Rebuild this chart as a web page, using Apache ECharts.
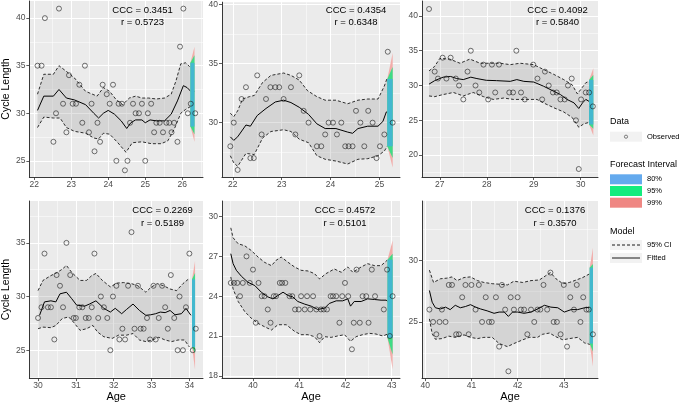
<!DOCTYPE html>
<html><head><meta charset="utf-8">
<script src="https://cdn.jsdelivr.net/npm/echarts@6/dist/echarts.min.js"></script>
<style>html,body{margin:0;padding:0;background:#fff}#c{width:685px;height:403px}</style>
</head><body><div id="c"></div><script>
// ---------------- DATA ----------------
// Panel 1
const p1Obs = [[22.09,35],[22.2,35],[22.29,40],[22.67,41],[22.52,27],[22.59,30],[22.78,31],[22.87,28],[22.94,34],[23.04,31],[23.13,31],[23.22,33],[23.3,29],[23.37,35],[23.48,28],[23.55,31],[23.63,26],[23.71,29],[23.78,27],[23.85,33],[23.96,32],[24.04,31],[24.13,33],[24.22,25],[24.28,31],[24.37,31],[24.45,24],[24.52,25],[24.59,29],[24.67,31],[24.74,30],[24.83,30],[24.91,31],[25.0,25],[25.07,30],[25.16,31],[25.24,28],[25.3,29],[25.39,29],[25.48,28],[25.57,29],[25.65,29],[25.71,28],[25.78,29],[25.87,27],[25.94,37],[26.03,41],[26.15,30],[26.23,31],[26.35,30]];
const p1Fit = [[22.09,30.3],[22.26,31.8],[22.52,31.8],[22.67,32.5],[22.87,31.6],[23.09,31.4],[23.39,30.9],[23.61,30.0],[23.74,29.5],[23.87,30.0],[24.0,30.3],[24.17,29.9],[24.35,29.2],[24.5,28.4],[24.61,29.0],[24.74,29.3],[24.91,29.3],[25.0,29.0],[25.13,29.3],[25.3,29.2],[25.52,29.2],[25.7,29.9],[25.87,31.3],[26.03,32.9],[26.13,32.7],[26.23,32.3],[26.33,32.3]];
const p1Up = [[22.09,32],[22.26,34.1],[22.52,34.1],[22.67,35],[22.87,34.4],[23.09,33.7],[23.39,32.3],[23.7,31.8],[23.87,32.7],[24.04,32.3],[24.22,31.4],[24.39,30.9],[24.57,31.6],[24.74,31.8],[24.91,31.6],[25.09,31.6],[25.3,31.5],[25.52,31.6],[25.7,32],[25.83,33.4],[25.96,35.2],[26.09,35.3],[26.2,34.9]];
const p1Lo = [[22.09,28.5],[22.26,29.6],[22.52,29.5],[22.7,29.5],[22.87,28.5],[23.09,28.1],[23.39,27.9],[23.61,27.4],[23.74,27.3],[23.87,27.9],[24.04,27.8],[24.26,26.9],[24.48,25.9],[24.65,26.9],[24.91,27],[25.17,26.8],[25.43,26.8],[25.61,27.1],[25.78,28.3],[25.96,30],[26.09,30.4],[26.22,30.7]];
const p1FcAge = [26.22, 26.33];
const p1Fc80 = [[28.6,35.3],[28.6,35.3]];
const p1Fc95 = [[28.6,35.3],[27.8,36.1]];
const p1Fc99 = [[28.6,35.3],[27.0,37.0]];
const p1Stats = ['CCC = 0.3451', 'r = 0.5723'];
const p1XTicks = [22,23,24,25,26], p1XMinor = [22.5,23.5,24.5,25.5,26.5];
const p1YTicks = [25,30,35,40], p1YMinor = [27.5,32.5,37.5];
const p1XLim = [21.87, 26.56], p1YLim = [23.3, 41.8];

// Panel 2
const p2Obs = [[21.95,28],[22.02,30],[22.1,26],[22.18,32],[22.27,33],[22.36,27],[22.43,27],[22.5,34],[22.59,29],[22.68,32],[22.77,33],[22.87,33],[22.95,33],[23.04,32],[23.19,33],[23.28,29],[23.36,34],[23.45,31],[23.55,30],[23.72,28],[23.81,28],[23.89,29],[23.96,30],[24.05,30],[24.13,29],[24.22,30],[24.3,28],[24.37,28],[24.45,28],[24.52,31],[24.61,30],[24.69,28],[24.77,31],[24.86,30],[24.94,27],[25.01,28],[25.1,29],[25.17,36],[25.27,30]];
const p2Fit = [[21.95,28.8],[22.02,28.5],[22.1,28.8],[22.27,29.8],[22.36,29.7],[22.5,30.6],[22.68,31.2],[22.87,31.75],[23.04,31.9],[23.19,31.7],[23.36,31.3],[23.55,30.7],[23.72,29.9],[23.89,29.5],[24.11,29.5],[24.35,29.2],[24.45,29.1],[24.56,29.5],[24.76,29.7],[24.97,29.7],[25.07,30.1],[25.14,30.9],[25.24,31.05]];
const p2Up = [[21.95,30.8],[22.02,30.5],[22.1,31],[22.2,32],[22.34,32.2],[22.44,32.3],[22.61,33.4],[22.78,34],[23.04,34.2],[23.19,34],[23.36,33.6],[23.53,32.7],[23.72,32.2],[23.89,31.9],[24.11,31.9],[24.35,31.6],[24.56,31.9],[24.76,32],[24.97,32],[25.1,33.1],[25.16,33.8]];
const p2Lo = [[21.95,27.2],[22.02,26.6],[22.1,26.3],[22.27,27.4],[22.44,27.3],[22.61,28.7],[22.78,29.25],[23.04,29.4],[23.19,29.25],[23.36,28.6],[23.55,28.3],[23.72,27.2],[23.89,26.9],[24.11,26.75],[24.35,26.5],[24.56,26.9],[24.76,26.95],[24.97,27.2],[25.1,27.6],[25.16,28]];
const p2FcAge = [25.16, 25.27];
const p2Fc80 = [[28,33.7],[28,33.7]];
const p2Fc95 = [[28,33.7],[27,34.7]];
const p2Fc99 = [[28,33.7],[26.2,35.9]];
const p2Stats = ['CCC = 0.4354', 'r = 0.6348'];
const p2XTicks = [22,23,24,25], p2XMinor = [22.5,23.5,24.5];
const p2YTicks = [30,35,40], p2YMinor = [27.5,32.5,37.5];
const p2XLim = [21.78, 25.42], p2YLim = [25.4, 40.2];

// Panel 3
const p3Obs = [[26.77,41],[26.89,32],[26.96,31],[27.06,34],[27.14,31],[27.23,34],[27.34,31],[27.41,30],[27.5,28],[27.59,32],[27.66,35],[27.76,30],[27.84,29],[27.93,33],[28.03,28],[28.11,33],[28.18,29],[28.26,33],[28.48,29],[28.56,29],[28.63,35],[28.73,29],[28.81,28],[28.99,33],[29.08,31],[29.18,28],[29.24,32],[29.32,30],[29.41,29],[29.49,29],[29.57,28],[29.66,28],[29.73,30],[29.81,31],[29.9,25],[29.96,18],[30.01,28],[30.11,29],[30.18,29],[30.26,27]];
const p3Fit = [[26.77,30.2],[26.89,30.7],[27.07,31.2],[27.23,31.3],[27.36,31],[27.5,30.85],[27.66,31.2],[27.79,31],[27.99,30.75],[28.21,30.7],[28.5,30.6],[28.64,30.85],[28.79,30.6],[29.0,30.5],[29.21,29.9],[29.39,29.3],[29.57,28.7],[29.71,28],[29.86,27.5],[29.96,26.7],[30.04,27.5],[30.11,28],[30.21,27.6]];
const p3Up = [[26.77,32.1],[26.89,32.75],[27.0,33.9],[27.21,33.8],[27.43,33.2],[27.64,33.8],[27.86,33.2],[28.07,33.2],[28.29,33.2],[28.5,33],[28.71,33.2],[29.0,33],[29.21,32.3],[29.43,31.6],[29.64,30.85],[29.82,30.1],[29.93,28.8],[30.0,29.4],[30.11,30.4],[30.18,30.6]];
const p3Lo = [[26.77,28.5],[26.89,28.4],[27.07,28.7],[27.29,29],[27.5,28.5],[27.71,29],[27.93,28.4],[28.14,28],[28.36,28.2],[28.57,28],[28.86,28],[29.07,28],[29.21,27.5],[29.43,26.8],[29.64,26.2],[29.82,25.4],[29.96,24],[30.07,24.5],[30.18,24.7]];
const p3FcAge = [30.18, 30.27];
const p3Fc80 = [[24.4,30.8],[24.4,30.8]];
const p3Fc95 = [[24.4,30.8],[23.8,31.5]];
const p3Fc99 = [[24.4,30.8],[22.8,32.5]];
const p3Stats = ['CCC = 0.4092', 'r = 0.5840'];
const p3XTicks = [27,28,29,30], p3XMinor = [27.5,28.5,29.5];
const p3YTicks = [20,25,30,35,40], p3YMinor = [17.5,22.5,27.5,32.5,37.5];
const p3XLim = [26.62, 30.37], p3YLim = [16.85, 42.15];

// Panel 4
const p4Obs = [[30.0,28],[30.09,29],[30.17,34],[30.26,29],[30.34,29],[30.43,26],[30.49,32],[30.58,31],[30.66,29],[30.75,35],[30.85,32],[30.94,28],[31.0,28],[31.09,29],[31.17,29],[31.26,28],[31.34,28],[31.42,29],[31.49,34],[31.59,28],[31.66,30],[31.74,29],[31.83,28],[31.91,25],[31.98,30],[32.07,31],[32.15,26],[32.23,27],[32.3,26],[32.38,31],[32.47,36],[32.55,27],[32.64,31],[32.71,27],[32.79,27],[32.88,28],[32.96,26],[33.05,31],[33.11,26],[33.19,28],[33.28,31],[33.36,29],[33.43,27],[33.51,32],[33.6,28],[33.69,25],[33.74,30],[33.83,25],[33.91,29],[34.0,34],[34.09,25],[34.17,27]];
const p4Fit = [[30.04,28.25],[30.17,29.5],[30.34,29.6],[30.47,29.5],[30.58,30.25],[30.75,30.4],[30.89,29.8],[31.02,29.2],[31.23,29.1],[31.36,29.3],[31.53,29.6],[31.74,28.9],[31.91,28.55],[32.04,28.9],[32.21,28.4],[32.34,28.8],[32.51,29.3],[32.68,28.7],[32.85,28.25],[32.98,28.3],[33.11,28.4],[33.23,28.55],[33.36,28.5],[33.49,28.7],[33.62,28.3],[33.79,28.4],[33.91,28.9],[34.04,28.25]];
const p4Up = [[30.0,30.55],[30.13,31.5],[30.34,31.95],[30.51,32.25],[30.64,32.55],[30.75,32.9],[30.89,32.25],[31.11,31.5],[31.28,31.5],[31.42,31.95],[31.53,32.15],[31.7,31.5],[31.91,30.9],[32.09,31.25],[32.26,31.3],[32.47,31.2],[32.64,31],[32.85,30.4],[32.98,30.85],[33.15,31.2],[33.32,31],[33.49,30.7],[33.66,30.55],[33.83,31.2],[34.0,31.7]];
const p4Lo = [[30.0,27],[30.13,27.15],[30.34,27.1],[30.47,27.3],[30.64,27.95],[30.81,28.1],[30.94,27.6],[31.11,26.85],[31.28,27],[31.45,27.3],[31.57,26.7],[31.74,26.25],[31.96,26.1],[32.13,26.4],[32.34,26.4],[32.51,26.55],[32.68,25.95],[32.85,25.8],[33.02,25.95],[33.19,26.2],[33.36,25.95],[33.53,25.8],[33.7,25.95],[33.87,25.95],[34.0,25.3]];
const p4FcAge = [34.07, 34.15];
const p4Fc80 = [[25.3,31.6],[25.3,31.6]];
const p4Fc95 = [[25.3,31.6],[24.7,32.2]];
const p4Fc99 = [[25.3,31.6],[23.2,33.3]];
const p4Stats = ['CCC = 0.2269', 'r = 0.5189'];
const p4XTicks = [30,31,32,33,34], p4XMinor = [30.5,31.5,32.5,33.5];
const p4YTicks = [25,30,35], p4YMinor = [22.5,27.5,32.5,37.5];
const p4XLim = [29.77, 34.36], p4YLim = [22.4, 38.9];

// Panel 5
const p5Obs = [[39.52,25],[39.59,25],[39.66,25],[39.72,24],[39.78,25],[39.86,27],[39.93,25],[40.0,26],[40.06,22],[40.12,25],[40.19,24],[40.25,24],[40.32,23],[40.38,22],[40.45,24],[40.5,24],[40.58,25],[40.63,25],[40.7,25],[40.79,24],[40.85,24],[40.91,23],[40.99,23],[41.04,24],[41.12,23],[41.17,24],[41.24,23],[41.3,24],[41.37,23],[41.44,21],[41.47,23],[41.53,23],[41.6,23],[41.68,24],[41.73,24],[41.8,24],[41.87,22],[41.93,24],[41.99,25],[42.06,24],[42.14,20],[42.18,22],[42.24,26],[42.31,22],[42.37,24],[42.45,24],[42.5,22],[42.57,26],[42.64,24],[42.83,23],[42.9,26],[42.96,21],[43.02,24]];
const p5Fit = [[39.52,27.2],[39.57,26.45],[39.64,25.95],[39.75,25.5],[39.89,25.05],[40.04,24.8],[40.18,24.3],[40.32,23.95],[40.43,23.8],[40.54,24.05],[40.65,24.3],[40.76,24.05],[40.86,23.95],[40.97,23.6],[41.12,23.4],[41.26,23.25],[41.4,23.0],[41.55,23.1],[41.65,23.45],[41.8,23.65],[41.94,23.65],[42.05,23.8],[42.11,23.25],[42.19,23.6],[42.34,23.6],[42.48,23.8],[42.63,23.75],[42.77,23.7],[42.88,23.7],[42.97,23.45]];
const p5Up = [[39.52,29.15],[39.57,28.4],[39.68,27.95],[39.82,27.8],[39.96,27.45],[40.11,26.95],[40.25,26.55],[40.4,26.3],[40.5,26.7],[40.61,26.95],[40.76,26.55],[40.9,26.2],[41.04,25.95],[41.19,25.9],[41.33,25.7],[41.44,25.3],[41.58,25.7],[41.76,26.05],[41.91,25.8],[42.05,26.2],[42.16,25.8],[42.34,26.2],[42.48,26.45],[42.63,26.3],[42.77,26.3],[42.9,26.7]];
const p5Lo = [[39.52,25.45],[39.57,24.55],[39.68,23.6],[39.82,22.85],[39.96,22.35],[40.11,21.95],[40.25,21.7],[40.4,21.45],[40.54,21.85],[40.72,21.85],[40.9,21.35],[41.04,21.1],[41.19,21.1],[41.33,20.95],[41.44,20.5],[41.55,20.95],[41.69,20.9],[41.83,21.0],[41.98,21.1],[42.11,20.6],[42.23,20.95],[42.37,21.1],[42.52,21.2],[42.66,21.15],[42.81,21.0],[42.95,21.2]];
const p5FcAge = [42.91, 43.02];
const p5Fc80 = [[20.85,26.75],[20.85,26.75]];
const p5Fc95 = [[20.85,26.75],[19.6,27.2]];
const p5Fc99 = [[20.85,26.75],[18.5,28.2]];
const p5Stats = ['CCC = 0.4572', 'r = 0.5101'];
const p5XTicks = [40,41,42,43], p5XMinor = [39.5,40.5,41.5,42.5];
const p5YTicks = [18,21,24,27,30], p5YMinor = [19.5,22.5,25.5,28.5];
const p5XLim = [39.33, 43.18], p5YLim = [17.83, 31.17];

// Panel 6
const p6Obs = [[40.09,26],[40.17,25],[40.24,24],[40.31,25],[40.36,26],[40.44,25],[40.51,28],[40.58,28],[40.67,24],[40.73,24],[40.8,27],[40.87,28],[40.94,24],[41.0,28],[41.09,26],[41.16,28],[41.23,25],[41.31,27],[41.38,25],[41.44,25],[41.53,27],[41.6,23],[41.66,28],[41.73,26],[41.8,21],[41.85,27],[41.92,26],[42.0,27],[42.07,26],[42.14,26],[42.21,24],[42.29,26],[42.36,25],[42.43,26],[42.49,26],[42.56,28],[42.64,26],[42.71,29],[42.78,25],[42.85,25],[42.93,24],[43.0,28],[43.07,23],[43.14,27],[43.22,26],[43.28,28],[43.36,25],[43.42,27],[43.49,26],[43.54,26],[43.63,24]];
const p6Fit = [[40.09,27.55],[40.15,26.6],[40.22,26.15],[40.33,26.05],[40.44,26.2],[40.54,26.0],[40.65,26.35],[40.76,26.15],[40.87,26.25],[40.98,26.4],[41.09,26.2],[41.2,26.05],[41.34,25.9],[41.49,25.7],[41.6,25.8],[41.71,25.8],[41.8,25.45],[41.89,25.8],[42.0,25.8],[42.14,25.7],[42.29,25.8],[42.43,26.05],[42.58,26.35],[42.72,26.2],[42.87,26.15],[43.01,25.8],[43.16,26.0],[43.3,26.0],[43.45,26.15],[43.59,26.2]];
const p6Up = [[40.09,29.2],[40.18,28.2],[40.33,28.5],[40.47,28.55],[40.58,28.65],[40.69,28.35],[40.84,28.6],[40.98,28.65],[41.13,28.35],[41.27,28.2],[41.45,28.1],[41.63,28.05],[41.78,28.0],[41.92,28.3],[42.11,28.2],[42.29,28.35],[42.47,28.4],[42.61,28.75],[42.71,29.0],[42.83,28.5],[42.98,28.1],[43.12,28.2],[43.27,28.4],[43.41,28.6],[43.56,28.9]];
const p6Lo = [[40.09,25.25],[40.15,24.05],[40.22,23.6],[40.36,23.65],[40.51,23.85],[40.65,23.75],[40.84,23.95],[40.98,23.75],[41.13,23.65],[41.27,23.75],[41.45,23.75],[41.6,23.25],[41.78,23.0],[41.92,23.25],[42.11,23.55],[42.25,23.75],[42.43,23.75],[42.54,24.0],[42.69,24.1],[42.83,23.8],[42.98,23.55],[43.12,23.65],[43.3,23.75],[43.45,23.3],[43.59,23.15]];
const p6FcAge = [43.56, 43.63];
const p6Fc80 = [[23.25,29.4],[23.25,29.4]];
const p6Fc95 = [[23.25,29.4],[22.6,29.7]];
const p6Fc99 = [[23.25,29.4],[21.4,31.0]];
const p6Stats = ['CCC = 0.1376', 'r = 0.3570'];
const p6XTicks = [40,41,42,43], p6XMinor = [40.5,41.5,42.5,43.5];
const p6YTicks = [25,30], p6YMinor = [22.5,27.5,32.5];
const p6XLim = [39.93, 43.74], p6YLim = [20.45, 34.8];

const legendForecast = ['80%', '95%', '99%'];
const legendModel = ['95% CI', 'Fitted'];

// ---------------- ASSEMBLY ----------------
const panels = [
  {obs:p1Obs, fit:p1Fit, up:p1Up, lo:p1Lo, fx:p1FcAge, f80:p1Fc80, f95:p1Fc95, f99:p1Fc99, stats:p1Stats, xt:p1XTicks, xm:p1XMinor, yt:p1YTicks, ym:p1YMinor, xl:p1XLim, yl:p1YLim},
  {obs:p2Obs, fit:p2Fit, up:p2Up, lo:p2Lo, fx:p2FcAge, f80:p2Fc80, f95:p2Fc95, f99:p2Fc99, stats:p2Stats, xt:p2XTicks, xm:p2XMinor, yt:p2YTicks, ym:p2YMinor, xl:p2XLim, yl:p2YLim},
  {obs:p3Obs, fit:p3Fit, up:p3Up, lo:p3Lo, fx:p3FcAge, f80:p3Fc80, f95:p3Fc95, f99:p3Fc99, stats:p3Stats, xt:p3XTicks, xm:p3XMinor, yt:p3YTicks, ym:p3YMinor, xl:p3XLim, yl:p3YLim},
  {obs:p4Obs, fit:p4Fit, up:p4Up, lo:p4Lo, fx:p4FcAge, f80:p4Fc80, f95:p4Fc95, f99:p4Fc99, stats:p4Stats, xt:p4XTicks, xm:p4XMinor, yt:p4YTicks, ym:p4YMinor, xl:p4XLim, yl:p4YLim},
  {obs:p5Obs, fit:p5Fit, up:p5Up, lo:p5Lo, fx:p5FcAge, f80:p5Fc80, f95:p5Fc95, f99:p5Fc99, stats:p5Stats, xt:p5XTicks, xm:p5XMinor, yt:p5YTicks, ym:p5YMinor, xl:p5XLim, yl:p5YLim},
  {obs:p6Obs, fit:p6Fit, up:p6Up, lo:p6Lo, fx:p6FcAge, f80:p6Fc80, f95:p6Fc95, f99:p6Fc99, stats:p6Stats, xt:p6XTicks, xm:p6XMinor, yt:p6YTicks, ym:p6YMinor, xl:p6XLim, yl:p6YLim}
];

const FONT = '"Liberation Sans", Arial, Helvetica, sans-serif';
const colLeft = [23, 222, 422], colWidth = [180, 178, 176];
const rowTop = [1, 201], rowHeight = [176, 179];
const statX = [142.5, 356, 557.5, 162.5, 345, 555];
const statY = [10, 210.5];

const grids = [], xAxes = [], yAxes = [], series = [], graphics = [];

panels.forEach((p, i) => {
  const col = i % 3, row = Math.floor(i / 3);
  grids.push({left: colLeft[col], top: rowTop[row], width: colWidth[col], height: rowHeight[row],
    show: true, backgroundColor: '#EBEBEB', borderWidth: 0, containLabel: false});
  xAxes.push({
    gridIndex: i, type: 'value', min: p.xl[0], max: p.xl[1], position: 'bottom',
    axisLine: {show: true, onZero: false, lineStyle: {color: '#222', width: 0.9}},
    axisTick: {show: true, customValues: p.xt, length: 3, lineStyle: {color: '#333', width: 0.8}},
    axisLabel: {show: true, customValues: p.xt, color: '#4D4D4D', fontSize: 8.5, margin: 3, fontFamily: FONT},
    splitLine: {show: true, lineStyle: {color: '#fff', width: 1.1}},
    name: row === 1 ? 'Age' : '', nameLocation: 'middle', nameGap: 12,
    nameTextStyle: {color: '#000', fontSize: 11, fontFamily: FONT}
  });
  xAxes.push({
    gridIndex: i, type: 'value', min: p.xl[0], max: p.xl[1], position: 'top',
    axisLine: {show: false}, axisTick: {show: false, customValues: p.xm}, axisLabel: {show: false},
    splitLine: {show: true, lineStyle: {color: '#fff', width: 0.5}}
  });
  yAxes.push({
    gridIndex: i, type: 'value', min: p.yl[0], max: p.yl[1], position: 'left',
    axisLine: {show: true, onZero: false, lineStyle: {color: '#222', width: 0.9}},
    axisTick: {show: true, customValues: p.yt, length: 3, lineStyle: {color: '#333', width: 0.8}},
    axisLabel: {show: true, customValues: p.yt, color: '#4D4D4D', fontSize: 8.5, margin: 4, fontFamily: FONT},
    splitLine: {show: true, lineStyle: {color: '#fff', width: 1.1}},
    name: col === 0 ? 'Cycle Length' : '', nameLocation: 'middle', nameGap: 10, nameRotate: 90,
    nameTextStyle: {color: '#000', fontSize: 10.5, fontFamily: FONT}
  });
  yAxes.push({
    gridIndex: i, type: 'value', min: p.yl[0], max: p.yl[1], position: 'right',
    axisLine: {show: false}, axisTick: {show: false, customValues: p.ym}, axisLabel: {show: false},
    splitLine: {show: true, lineStyle: {color: '#fff', width: 0.5}}
  });
  const xi = 2 * i, yi = 2 * i;
  // CI ribbon
  series.push({
    type: 'custom', xAxisIndex: xi, yAxisIndex: yi, silent: true, z: 1,
    data: [p.fit[0]],
    renderItem: (params, api) => {
      const pts = p.up.map(d => api.coord(d)).concat(p.lo.slice().reverse().map(d => api.coord(d)));
      return {type: 'polygon', shape: {points: pts}, style: {fill: 'rgba(150,150,150,0.27)', stroke: null}};
    }
  });
  // dashed CI bounds
  [p.up, p.lo].forEach(arr => series.push({
    type: 'line', xAxisIndex: xi, yAxisIndex: yi, data: arr, showSymbol: false, silent: true, z: 2,
    lineStyle: {color: '#000', width: 0.8, type: [3, 2]}
  }));
  // fitted
  series.push({
    type: 'line', xAxisIndex: xi, yAxisIndex: yi, data: p.fit, showSymbol: false, silent: true, z: 3,
    lineStyle: {color: '#000', width: 1}
  });
  // forecast intervals
  series.push({
    type: 'custom', xAxisIndex: xi, yAxisIndex: yi, silent: true, z: 4,
    data: [[p.fx[0], p.f80[0][0]]],
    renderItem: (params, api) => {
      const band = (b, fill) => ({type: 'polygon', shape: {points: [
        api.coord([p.fx[0], b[0][1]]), api.coord([p.fx[1], b[1][1]]),
        api.coord([p.fx[1], b[1][0]]), api.coord([p.fx[0], b[0][0]])]},
        style: {fill: fill, stroke: null}});
      return {type: 'group', children: [
        band(p.f99, '#F2ADAA'), band(p.f95, '#3EDC86'), band(p.f80, '#43B8CF')]};
    }
  });
  // observed points
  series.push({
    type: 'scatter', xAxisIndex: xi, yAxisIndex: yi, data: p.obs, symbol: 'circle', symbolSize: 5,
    silent: true, z: 5,
    itemStyle: {color: 'rgba(0,0,0,0)', borderColor: '#1a1a1a', borderWidth: 0.75}
  });
  // stats text
  p.stats.forEach((t, k) => graphics.push({
    type: 'text', x: statX[i], y: statY[row] + k * 12.5, silent: true, z: 100,
    style: {text: t, fill: '#000', font: '9.5px ' + FONT, textAlign: 'center', textVerticalAlign: 'middle', align: 'center', verticalAlign: 'middle'}
  }));
});

// ---------------- LEGEND ----------------
const LX = 610, KW = 32, KH = 10;
const txt = (t, x, y, size) => ({type: 'text', x: x, y: y, silent: true, z: 100,
  style: {text: t, fill: '#000', font: size + 'px ' + FONT, textAlign: 'left', textVerticalAlign: 'middle', align: 'left', verticalAlign: 'middle'}});
graphics.push(txt('Data', LX, 122, 9));
graphics.push({type: 'rect', z: 100, shape: {x: LX, y: 131.7, width: KW, height: KH}, style: {fill: '#F2F2F2'}});
graphics.push({type: 'circle', z: 101, shape: {cx: LX + KW / 2, cy: 136.7, r: 1.6}, style: {fill: 'none', stroke: '#333', lineWidth: 0.6}});
graphics.push(txt('Observed', 647, 136.7, 7.5));
graphics.push(txt('Forecast Interval', LX, 165, 9));
const fcCols = ['#64AAEE', '#14EC7E', '#EF8783'];
legendForecast.forEach((t, k) => {
  const y0 = 174.3 + k * 11.7;
  graphics.push({type: 'rect', z: 100, shape: {x: LX, y: y0, width: KW, height: KH}, style: {fill: fcCols[k]}});
  graphics.push(txt(t, 647, y0 + KH / 2, 7.5));
});
graphics.push(txt('Model', LX, 231.7, 9));
legendModel.forEach((t, k) => {
  const y0 = 240 + k * 13;
  graphics.push({type: 'rect', z: 100, shape: {x: LX, y: y0, width: KW, height: KH}, style: {fill: '#F2F2F2'}});
  graphics.push({type: 'line', z: 101, shape: {x1: LX + 2, y1: y0 + KH / 2, x2: LX + KW - 2, y2: y0 + KH / 2},
    style: {stroke: '#000', lineWidth: 0.9, lineDash: k === 0 ? [3, 2] : null}});
  graphics.push(txt(t, 647, y0 + KH / 2, 7.5));
});

const chart = echarts.init(document.getElementById('c'), null, {renderer: 'canvas'});
chart.setOption({
  animation: false,
  backgroundColor: '#fff',
  grid: grids, xAxis: xAxes, yAxis: yAxes, series: series,
  graphic: {elements: graphics}
});
</script></body></html>
